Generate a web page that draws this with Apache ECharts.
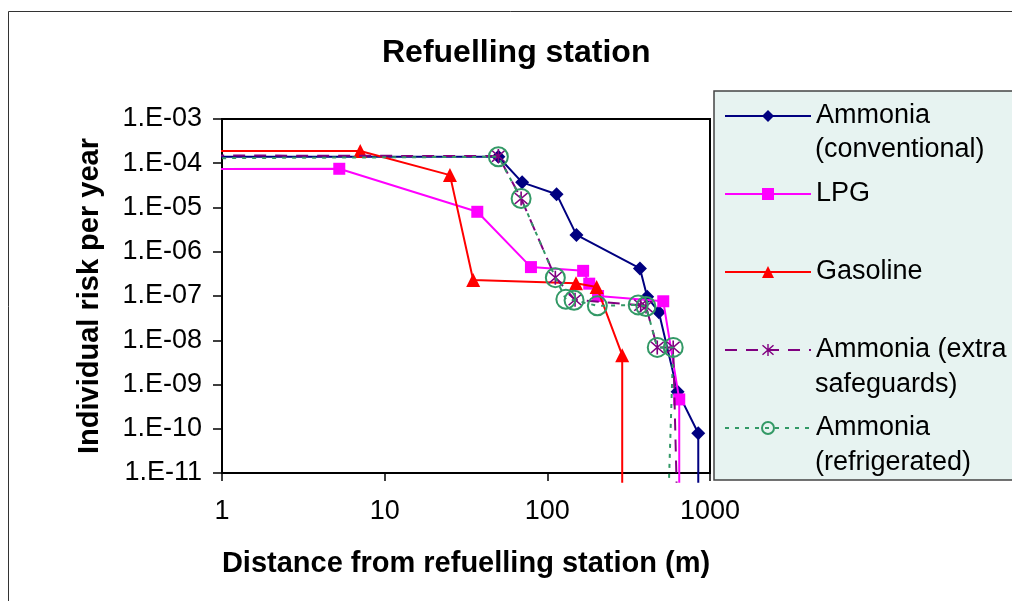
<!DOCTYPE html>
<html><head><meta charset="utf-8">
<script src="https://cdn.jsdelivr.net/npm/echarts@6/dist/echarts.min.js"></script>
<style>html,body{margin:0;padding:0;background:#fff}#c{width:1012px;height:601px}</style>
</head><body><div id="c"></div>
<script>
const seriesNames = ['Ammonia (conventional)', 'LPG', 'Gasoline', 'Ammonia (extra safeguards)', 'Ammonia (refrigerated)'];
const legendLine1 = ['Ammonia', 'LPG', 'Gasoline', 'Ammonia (extra', 'Ammonia'];
const legendLine2 = ['(conventional)', '', '', 'safeguards)', '(refrigerated)'];
const xTickLabels = ['1', '10', '100', '1000'];
const yTickLabels = ['1.E-11', '1.E-10', '1.E-09', '1.E-08', '1.E-07', '1.E-06', '1.E-05', '1.E-04', '1.E-03'];

const ammConvX = [0.87, 50, 70, 114, 151, 371, 411, 485, 632, 847, 847];
const ammConvY = [1.4e-4, 1.4e-4, 3.7e-5, 2.0e-5, 2.4e-6, 4.2e-7, 9.6e-8, 4.3e-8, 6.9e-10, 7.9e-11, 6e-12];
const lpgX = [0.87, 5.26, 37.1, 79.3, 166, 181, 205, 516, 647, 647];
const lpgY = [7.4e-5, 7.5e-5, 8.0e-6, 4.5e-7, 3.7e-7, 1.9e-7, 1.0e-7, 7.6e-8, 4.6e-10, 6e-12];
const gasX = [0.87, 7.08, 25.2, 35.0, 150, 201, 288.6, 288.6];
const gasY = [1.9e-4, 1.9e-4, 5.4e-5, 2.3e-7, 1.95e-7, 1.6e-7, 4.6e-9, 6e-12];
const extraX = [0.87, 50, 69, 112, 148, 375, 404, 474, 594, 623];
const extraY = [1.5e-4, 1.45e-4, 1.6e-5, 2.6e-7, 8.2e-8, 6.2e-8, 5.8e-8, 6.9e-9, 6.9e-9, 6e-12];
const refrX = [0.87, 50, 69, 112, 130, 146, 203, 362, 404, 474, 594, 559];
const refrY = [1.3e-4, 1.4e-4, 1.6e-5, 2.6e-7, 8.4e-8, 8.0e-8, 6.0e-8, 6.3e-8, 5.8e-8, 6.9e-9, 6.9e-9, 6e-12];

const FONT = '"Liberation Sans", Arial, sans-serif';
const ASTERISK = 'path://M9,0h2v20h-2z M1.4,2.8L2.8,1.4L18.6,17.2L17.2,18.6z M17.2,1.4L18.6,2.8L2.8,18.6L1.4,17.2z';

function mk(xs, ys) {
  return xs.map((x, i) => {
    const d = { value: [x, ys[i]] };
    if (i === 0 || i === xs.length - 1) d.symbol = 'none';
    return d;
  });
}

function lineSeries(idx, xs, ys, color, symbol, size, lineType, extraItem) {
  return {
    name: seriesNames[idx], type: 'line', data: mk(xs, ys), clip: false,
    symbol: symbol, symbolSize: size, showAllSymbol: true,
    lineStyle: { color: color, width: 2, type: lineType },
    itemStyle: Object.assign({ color: color }, extraItem || {}),
    emphasis: { disabled: true }, z: 2 + idx
  };
}

const legendIconY = [114, 192, 270, 349, 427];
const graphics = [
  { type: 'rect', z: -5, shape: { x: 8.5, y: 11.5, width: 1200, height: 800 }, style: { fill: 'none', stroke: '#333', lineWidth: 1 } },
  { type: 'rect', z: 1, shape: { x: 714, y: 91, width: 400, height: 389 }, style: { fill: '#e7f3f1', stroke: '#444', lineWidth: 1.5 } }
];
legendLine2.forEach((t, i) => {
  if (!t) return;
  graphics.push({ type: 'text', z: 10, style: { text: t, x: 815, y: legendIconY[i] + 37 - 15, font: '27px ' + FONT, fill: '#000' } });
});

const chart = echarts.init(document.getElementById('c'), null, { renderer: 'canvas' });
chart.setOption({
  animation: false,
  backgroundColor: '#fff',
  title: { text: 'Refuelling station', left: 382, top: 37, padding: 0,
    textStyle: { fontSize: 32, fontWeight: 'bold', color: '#000', fontFamily: FONT } },
  grid: { left: 222, top: 119, width: 488, height: 354, show: true, borderColor: '#000', borderWidth: 2, backgroundColor: 'transparent' },
  legend: {
    orient: 'vertical', left: 724, top: 98, padding: 0, itemWidth: 86, itemHeight: 15, itemGap: 42,
    selectedMode: false, data: seriesNames, z: 20,
    formatter: name => legendLine1[seriesNames.indexOf(name)],
    textStyle: { fontSize: 27, lineHeight: 36, color: '#000', fontFamily: FONT }
  },
  xAxis: {
    type: 'log', logBase: 10, min: 1, max: 1000, splitNumber: 3,
    name: 'Distance from refuelling station (m)', nameLocation: 'middle', nameGap: 76,
    nameTextStyle: { fontSize: 29, fontWeight: 'bold', color: '#000', fontFamily: FONT },
    axisLine: { show: true, onZero: false, lineStyle: { color: '#000', width: 2 } },
    axisTick: { show: true, length: 8, lineStyle: { color: '#000', width: 1.5 } },
    axisLabel: { margin: 25, fontSize: 27, color: '#000', fontFamily: FONT,
      formatter: v => xTickLabels[Math.round(Math.log10(v))] },
    splitLine: { show: false }, minorTick: { show: false }
  },
  yAxis: {
    type: 'log', logBase: 10, min: 1e-11, max: 1e-3, splitNumber: 8,
    name: 'Individual risk per year', nameLocation: 'middle', nameGap: 118, nameRotate: 90,
    nameTextStyle: { fontSize: 29, fontWeight: 'bold', color: '#000', fontFamily: FONT },
    axisLine: { show: true, onZero: false, lineStyle: { color: '#000', width: 2 } },
    axisTick: { show: true, length: 9, lineStyle: { color: '#000', width: 1.5 } },
    axisLabel: { margin: 20, fontSize: 27, color: '#000', fontFamily: FONT,
      formatter: v => yTickLabels[Math.round(Math.log10(v)) + 11] },
    splitLine: { show: false }, minorTick: { show: false }
  },
  graphic: { elements: graphics },
  series: [
    lineSeries(0, ammConvX, ammConvY, '#000080', 'diamond', 14, 'solid'),
    lineSeries(1, lpgX, lpgY, '#ff00ff', 'rect', 12, 'solid'),
    lineSeries(2, gasX, gasY, '#ff0000', 'triangle', 14, 'solid'),
    lineSeries(3, extraX, extraY, '#800080', ASTERISK, 14, [12, 9]),
    lineSeries(4, refrX, refrY, '#339966', 'circle', 19, [4, 6], { color: 'rgba(0,0,0,0)', borderColor: '#339966', borderWidth: 2 })
  ]
});
</script></body></html>
